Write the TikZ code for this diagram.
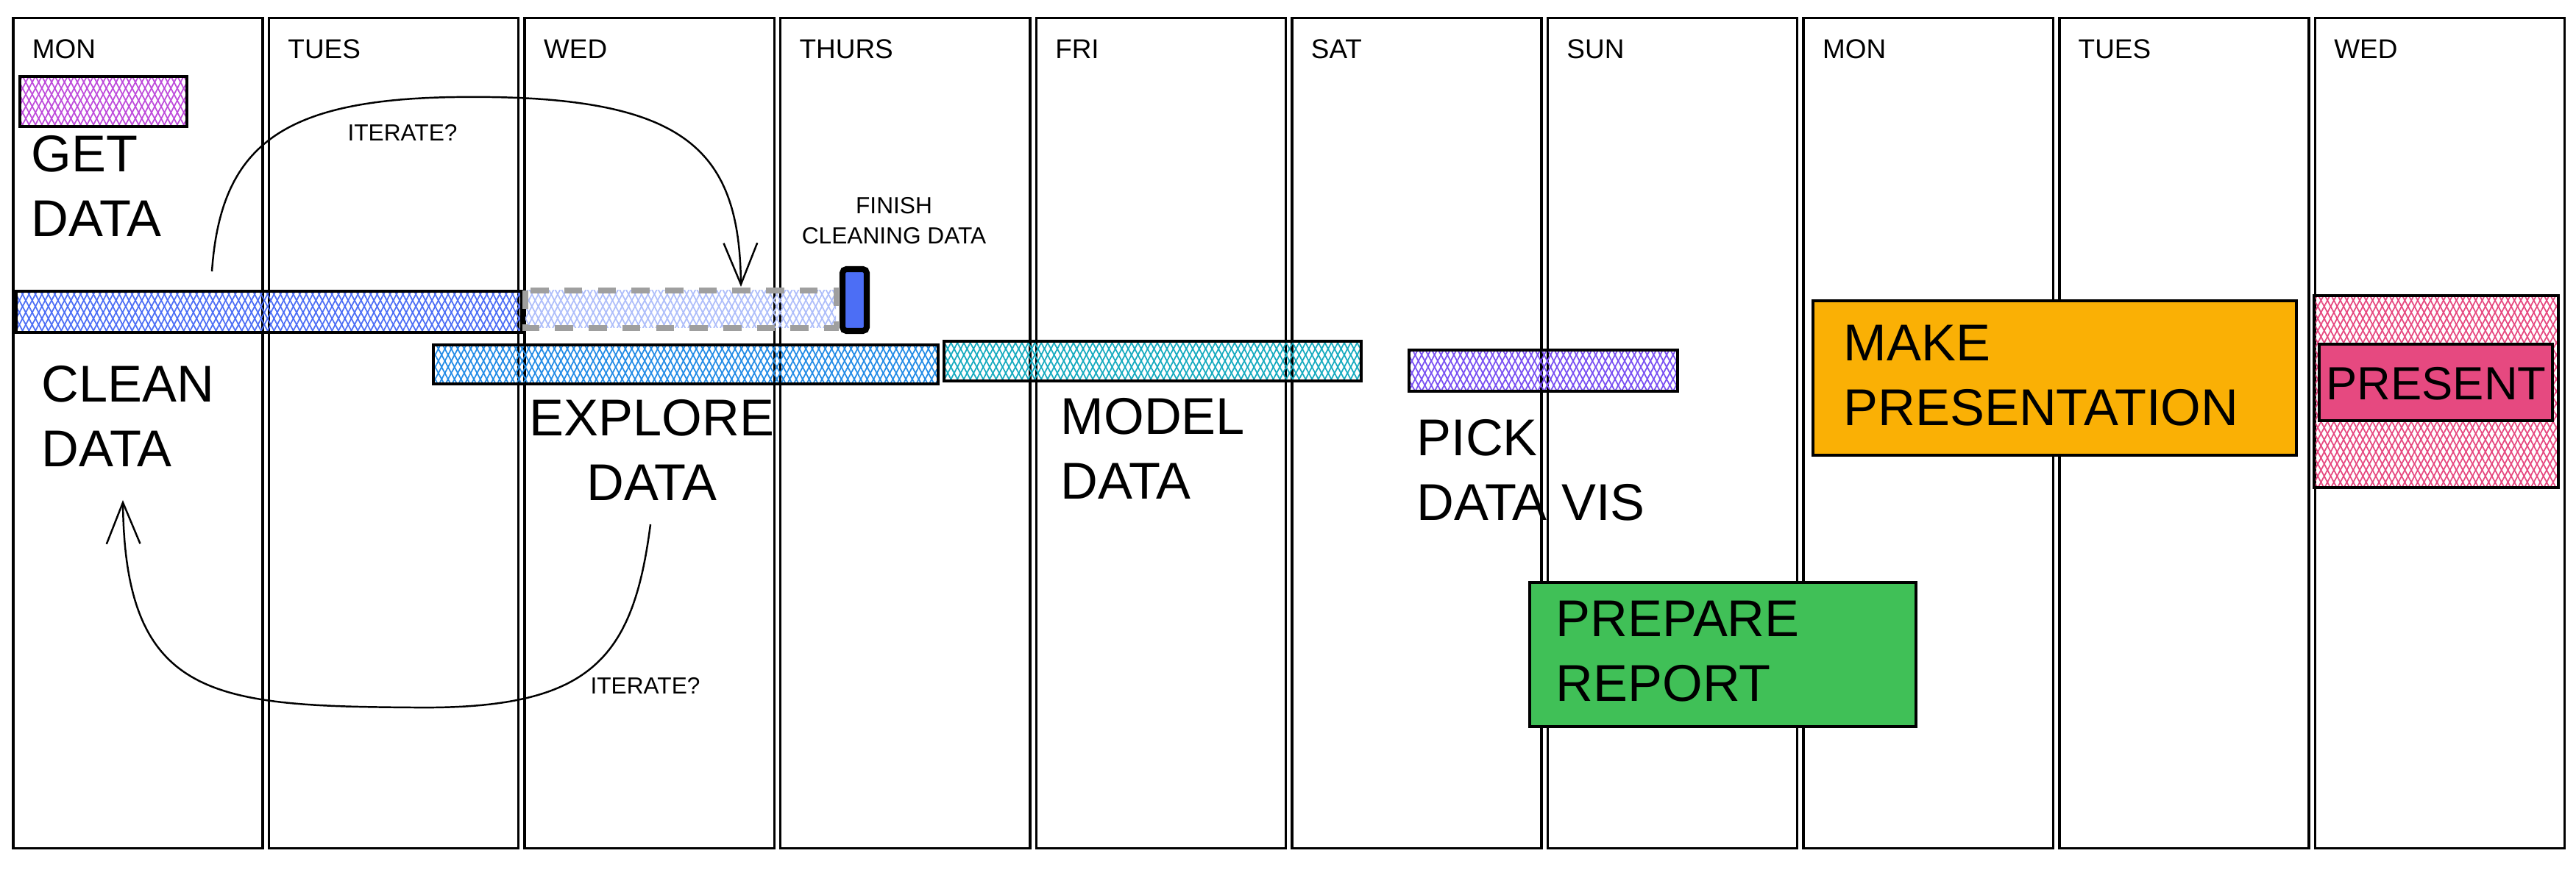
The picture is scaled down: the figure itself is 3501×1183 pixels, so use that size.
\documentclass[tikz,border=0pt]{standalone}
\usepackage{fontspec}
\setmainfont{Liberation Sans}
\usetikzlibrary{arrows.meta,patterns.meta,calc}
\definecolor{grape}{HTML}{BE4BDB}
\definecolor{indigo}{HTML}{4C6EF5}
\definecolor{skyblue}{HTML}{228BE6}
\definecolor{teal2}{HTML}{15AABF}
\definecolor{pickviolet}{HTML}{7950F2}
\definecolor{amber}{HTML}{FAB005}
\definecolor{rose}{HTML}{E64980}
\definecolor{leaf}{HTML}{40C057}
\begin{document}
\begin{tikzpicture}
  [x=0.01cm, y=-0.01cm,
   daycol/.style={draw, line width=1pt, minimum width=3.39cm, minimum height=11.28cm, inner sep=0},
   dayhead/.style={anchor=north west, inner sep=0, font=\fontsize{10.5}{12}\selectfont},
   task/.style={anchor=north west, inner sep=0, align=left, font=\fontsize{20}{25}\selectfont},
   note/.style={inner sep=0, align=center, font=\fontsize{9}{11.5}\selectfont},
   bar/.style={draw, line width=0.9pt},
   hatch/.style={preaction={pattern={Lines[angle=62,distance=2.2pt,line width=0.5pt]}, pattern color=#1},
                 pattern={Lines[angle=-62,distance=2.2pt,line width=0.5pt]}, pattern color=#1},
   iterarrow/.style={line width=0.7pt, -{Straight Barb[length=16pt,width=13pt]}}]
  \useasboundingbox (0,0) rectangle (3501,1183);

  \foreach \day [count=\i from 0] in {MON,TUES,WED,THURS,FRI,SAT,SUN,MON,TUES,WED}
  {
    \node[daycol] (col\i) at (187.5+347.6*\i, 589) {};
    \node[dayhead] (head\i) at ($(col\i.north west)+(27,30)$) {\day};
  }

  \draw[bar, hatch=grape] (27,104) rectangle (254,172);
  \node[task] (gettxt) at (42,184) {GET\\DATA};

  \draw[bar, hatch=indigo] (22,396) rectangle (709,452);
  \draw[hatch=indigo!45!white, draw=gray!75, line width=2pt, dash pattern=on 7pt off 6pt] (714,395) rectangle (1136,446);
  \draw[line width=2.3pt, fill=indigo, rounded corners=1.5pt] (1145,366) rectangle (1178,450);
  \node[note] (finishtxt) at (1215,300) {FINISH\\CLEANING DATA};
  \node[task] (cleantxt) at (56,497) {CLEAN\\DATA};

  \draw[bar, hatch=skyblue] (589,469) rectangle (1275,522);
  \node[task, align=center] (exploretxt) at (719,543) {EXPLORE\\DATA};

  \draw[bar, hatch=teal2] (1283,464) rectangle (1850,518);
  \node[task] (modeltxt) at (1441,541) {MODEL\\DATA};

  \draw[bar, hatch=pickviolet] (1915,476) rectangle (2280,532);
  \node[task] (picktxt) at (1925,570) {PICK\\DATA VIS};

  \draw[bar, fill=amber] (2464,409) rectangle (3121,619);
  \node[task] (maketxt) at (2505,441) {MAKE\\PRESENTATION};

  \draw[bar, hatch=rose] (3145,402) rectangle (3477,663);
  \draw[bar, fill=rose] (3152,468) rectangle (3469,572);
  \node[task, anchor=center, font=\fontsize{18}{22}\selectfont] (presenttxt) at (3311,522) {PRESENT};

  \draw[bar, fill=leaf] (2079,792) rectangle (2604,988);
  \node[task] (preparetxt) at (2114,816) {PREPARE\\REPORT};

  % iterate loops
  \coordinate (iterfrom) at (288,369);
  \coordinate (iterto) at (1007,390);
  \draw[iterarrow] (iterfrom) .. controls (300,200) and (380,135) .. (620,132) .. controls (930,128) and (1005,200) .. (iterto);
  \node[note] (iterupper) at (547,180) {ITERATE?};

  \coordinate (backfrom) at (884,713);
  \coordinate (backto) at (167,680);
  \draw[iterarrow] (backfrom) .. controls (860,900) and (800,965) .. (561,962) .. controls (290,960) and (170,950) .. (backto);
  \node[note] (iterlower) at (877,932) {ITERATE?};
\end{tikzpicture}
\end{document}
